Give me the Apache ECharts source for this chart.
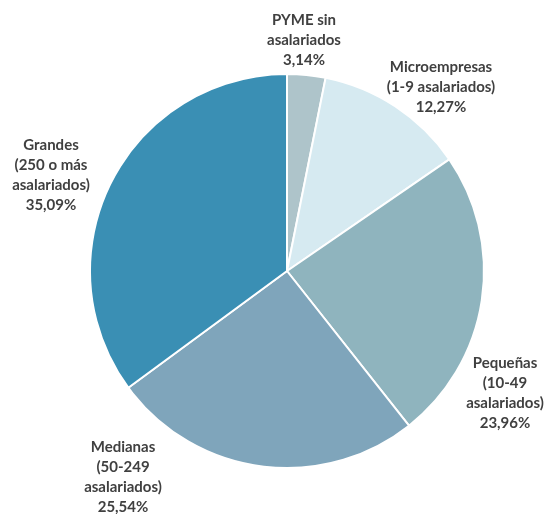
<!DOCTYPE html>
<html>
<head>
<meta charset="utf-8">
<script src="https://cdn.jsdelivr.net/npm/echarts@6/dist/echarts.min.js"></script>
<style>html,body{margin:0;padding:0;background:#fff}#c{width:548px;height:514px}</style>
</head>
<body>
<div id="c"></div>
<script>
const categories = ["PYME sin\nasalariados", "Microempresas\n(1-9 asalariados)", "Pequeñas\n(10-49\nasalariados)", "Medianas\n(50-249\nasalariados)", "Grandes\n(250 o más\nasalariados)"];
const values = [3.14, 12.27, 23.96, 25.54, 35.09];
const valueLabels = ["3,14%", "12,27%", "23,96%", "25,54%", "35,09%"];
const colors = ["#aec4ca", "#d6eaf1", "#8fb4be", "#7fa5bb", "#3a8fb4"];
const labelAnchors = [[304, 40], [441, 87], [505, 393], [123, 477], [51, 175]];

const chart = echarts.init(document.getElementById('c'));
chart.setOption({
  animation: false,
  series: [{
    type: 'pie',
    center: [287, 271],
    radius: 197,
    startAngle: 90,
    clockwise: true,
    data: categories.map((c, i) => ({
      name: c,
      value: values[i],
      itemStyle: { color: colors[i] }
    })),
    itemStyle: { borderColor: '#ffffff', borderWidth: 2 },
    label: {
      show: true,
      position: 'outside',
      alignTo: 'none',
      overflow: 'none',
      formatter: p => p.name + '\n' + valueLabels[p.dataIndex],
      fontFamily: 'Lato',
      fontWeight: 'bold',
      fontSize: 15,
      lineHeight: 20,
      color: '#404040',
      align: 'center'
    },
    labelLine: { show: false },
    labelLayout: function (params) {
      const a = labelAnchors[params.dataIndex];
      return { x: a[0], y: a[1], align: 'center', verticalAlign: 'middle' };
    }
  }]
});
</script>
</body>
</html>
